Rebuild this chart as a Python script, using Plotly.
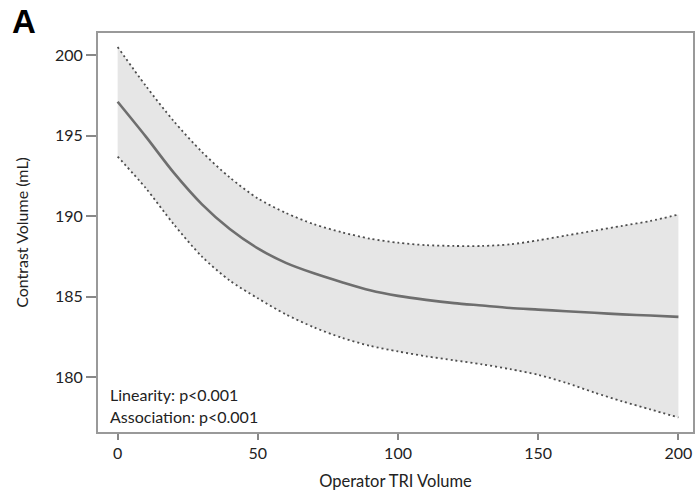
import plotly.graph_objects as go

x_vals = [0, 10, 20, 30, 40, 50, 60, 70, 80, 90, 100, 110, 120, 130, 140, 150, 160, 170, 180, 190, 200]
central = [197.1, 194.95, 192.7, 190.75, 189.2, 188.0, 187.1, 186.45, 185.9, 185.4, 185.05,
           184.8, 184.6, 184.45, 184.3, 184.2, 184.1, 184.0, 183.9, 183.83, 183.75]
upper = [200.5, 198.1, 195.9, 194.0, 192.4, 191.1, 190.2, 189.5, 189.0, 188.6, 188.35,
         188.2, 188.15, 188.15, 188.25, 188.5, 188.8, 189.1, 189.4, 189.7, 190.1]
lower = [193.7, 191.75, 189.5, 187.5, 186.0, 184.9, 183.9, 183.1, 182.45, 181.95, 181.6,
         181.3, 181.05, 180.8, 180.5, 180.15, 179.65, 179.05, 178.5, 178.0, 177.5]
x_ticks = [0, 50, 100, 150, 200]
y_ticks = [180, 185, 190, 195, 200]

FONT = "Lato"
TXT = "#222222"
DOT = dict(color="#4d4d4d", width=1.8, dash="2px,3px", shape="spline", smoothing=0.8)

fig = go.Figure()
fig.add_trace(go.Scatter(x=x_vals, y=lower, mode="lines", line=DOT,
                         showlegend=False, hoverinfo="skip"))
fig.add_trace(go.Scatter(x=x_vals, y=upper, mode="lines", line=DOT,
                         fill="tonexty", fillcolor="#e6e6e6", showlegend=False, hoverinfo="skip"))
fig.add_trace(go.Scatter(x=x_vals, y=central, mode="lines",
                         line=dict(color="#6e6e6e", width=2.6, shape="spline", smoothing=0.8),
                         showlegend=False))

axis_common = dict(showline=True, linecolor="#999999", linewidth=2, mirror=True, showgrid=False, zeroline=False,
                   ticks="outside", tickcolor="#888888", tickwidth=1.5, automargin=False,
                   tickfont=dict(family=FONT, size=16, color=TXT))

fig.update_layout(
    width=695, height=494,
    margin=dict(l=98, r=2, t=33, b=62),
    plot_bgcolor="white", paper_bgcolor="white",
    xaxis=dict(range=[-7, 205.2], tickvals=x_ticks, ticklen=6,
               title=dict(text="Operator TRI Volume", font=dict(family=FONT, size=16.5, color=TXT), standoff=14),
               **axis_common),
    yaxis=dict(range=[176.6, 201.37], tickvals=y_ticks, ticklen=10,
               title=dict(text="Contrast Volume (mL)", font=dict(family=FONT, size=16, color=TXT), standoff=22),
               **axis_common),
    annotations=[
        dict(text="<b>A</b>", x=-0.124, y=1.03, xref="paper", yref="paper", xanchor="center", yanchor="middle",
             showarrow=False, borderpad=0, font=dict(family="Liberation Sans", size=33, color="black")),
        dict(text="Linearity: p<0.001", x=0.016, y=0.093, xref="paper", yref="paper",
             xanchor="left", yanchor="middle", align="left", showarrow=False,
             font=dict(family=FONT, size=16, color=TXT)),
        dict(text="Association: p<0.001", x=0.016, y=0.038, xref="paper", yref="paper",
             xanchor="left", yanchor="middle", align="left", showarrow=False,
             font=dict(family=FONT, size=16, color=TXT)),
    ],
)

# remove the browser's default 8px page margin so the 695x494 figure fills the window exactly
fig.write_html("out.html", config={"displayModeBar": False},
               post_script="document.body.style.margin='0';document.body.style.overflow='hidden';")
